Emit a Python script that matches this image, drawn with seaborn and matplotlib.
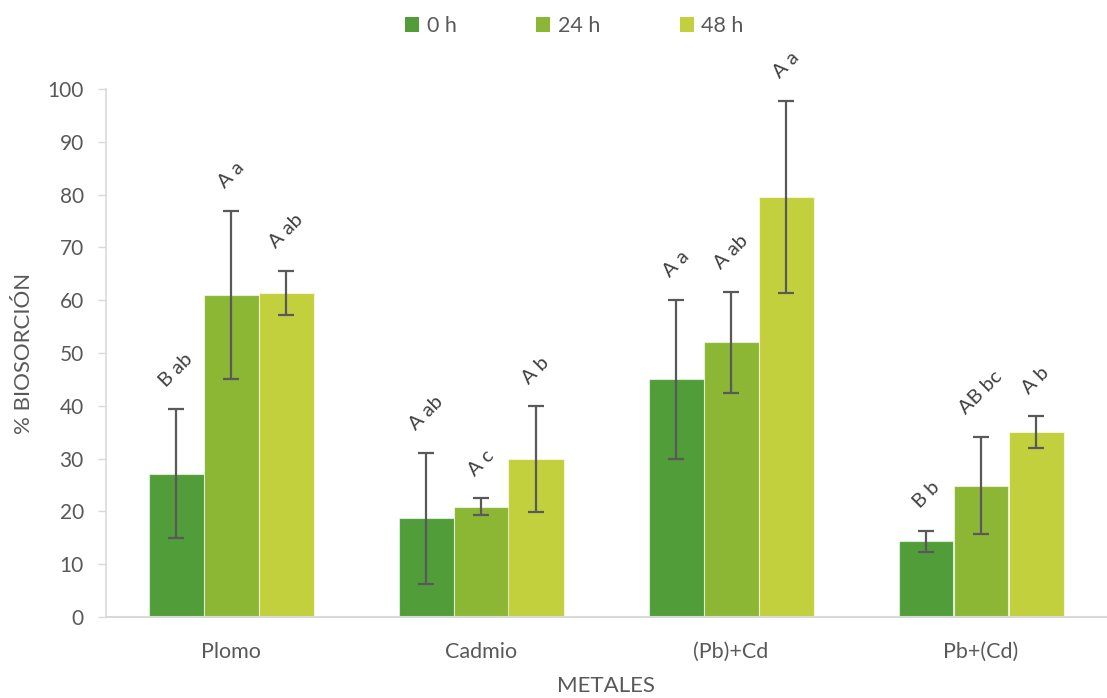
import numpy as np
import pandas as pd
import matplotlib
matplotlib.use("Agg")
import matplotlib.pyplot as plt
from matplotlib.patches import Patch
import seaborn as sns

# ---- data ----
categories = ["Plomo", "Cadmio", "(Pb)+Cd", "Pb+(Cd)"]
series = ["0 h", "24 h", "48 h"]
vals_0h = [27.1, 18.7, 45.0, 14.3]
vals_24h = [61.0, 20.9, 52.0, 24.9]
vals_48h = [61.4, 29.9, 79.6, 35.0]
err_0h = [12.2, 12.4, 15.1, 2.0]
err_24h = [15.9, 1.6, 9.6, 9.2]
err_48h = [4.2, 10.0, 18.2, 3.0]
lab_0h = ["B ab", "A ab", "A a", "B b"]
lab_24h = ["A a", "A c", "A ab", "AB bc"]
lab_48h = ["A ab", "A b", "A a", "A b"]
colors = ["#509D39", "#8BB735", "#C2D03D"]
yticks = [0, 10, 20, 30, 40, 50, 60, 70, 80, 90, 100]

rows = []
for s, v, e, l in zip(series, [vals_0h, vals_24h, vals_48h],
                      [err_0h, err_24h, err_48h], [lab_0h, lab_24h, lab_48h]):
    for c, vv, ee, ll in zip(categories, v, e, l):
        rows.append({"Metal": c, "Tiempo": s, "val": vv, "err": ee, "lab": ll})
df = pd.DataFrame(rows)

sns.set_theme(style="white")
plt.rcParams["font.family"] = ["Lato", "DejaVu Sans"]
txt = "#595959"

fig = plt.figure(figsize=(11.07, 6.98), dpi=100)
ax = fig.add_axes([106 / 1107, 81 / 698, 1000 / 1107, 528 / 698])

sns.barplot(data=df, x="Metal", y="val", hue="Tiempo", order=categories,
            hue_order=series, palette=colors, width=0.66, errorbar=None,
            saturation=1, edgecolor=(1, 1, 1, 0.6), linewidth=0.8, ax=ax,
            legend=False)

# error bars and labels aligned with the bars drawn by seaborn
for cont, s in zip(ax.containers, series):
    sub = df[df["Tiempo"] == s].set_index("Metal").loc[categories]
    xs = [p.get_x() + p.get_width() / 2 for p in cont.patches]
    ax.errorbar(xs, sub["val"], yerr=sub["err"], fmt="none", ecolor="#595959",
                elinewidth=1.6, capsize=6, capthick=1.6, zorder=5)
    for x, v, e, l in zip(xs, sub["val"], sub["err"], sub["lab"]):
        ax.annotate(l, (x, v + e), xytext=(0, 14), textcoords="offset points",
                    rotation=45, ha="center", va="bottom", fontsize=14.5,
                    color="#404040")

ax.set_ylim(0, 100)
ax.set_xlim(-0.5, 3.5)
ax.set_yticks(yticks)
for sp in ["top", "right"]:
    ax.spines[sp].set_visible(False)
ax.spines["left"].set_color("#D9D9D9")
ax.spines["bottom"].set_color("#D9D9D9")
ax.spines["left"].set_linewidth(1.2)
ax.spines["bottom"].set_linewidth(1.5)
ax.tick_params(axis="y", which="major", left=True, length=6, width=1,
               color="#D9D9D9", labelsize=15, labelcolor=txt, pad=10)
ax.tick_params(axis="x", bottom=False, labelsize=15.5, labelcolor=txt, pad=12)
ax.set_xlabel("METALES", fontsize=16, color=txt, labelpad=10)
ax.set_ylabel("% BIOSORCIÓN", fontsize=16, color=txt, labelpad=10)

handles = [Patch(facecolor=c, edgecolor="none") for c in colors]
fig.legend(handles, series, loc="upper center", bbox_to_anchor=(0.519, 1.005),
           ncol=3, frameon=False, fontsize=15.5, handlelength=0.65,
           handleheight=0.65, handletextpad=0.35, columnspacing=3.7,
           labelcolor=txt)

fig.savefig("out.png", dpi=100)
